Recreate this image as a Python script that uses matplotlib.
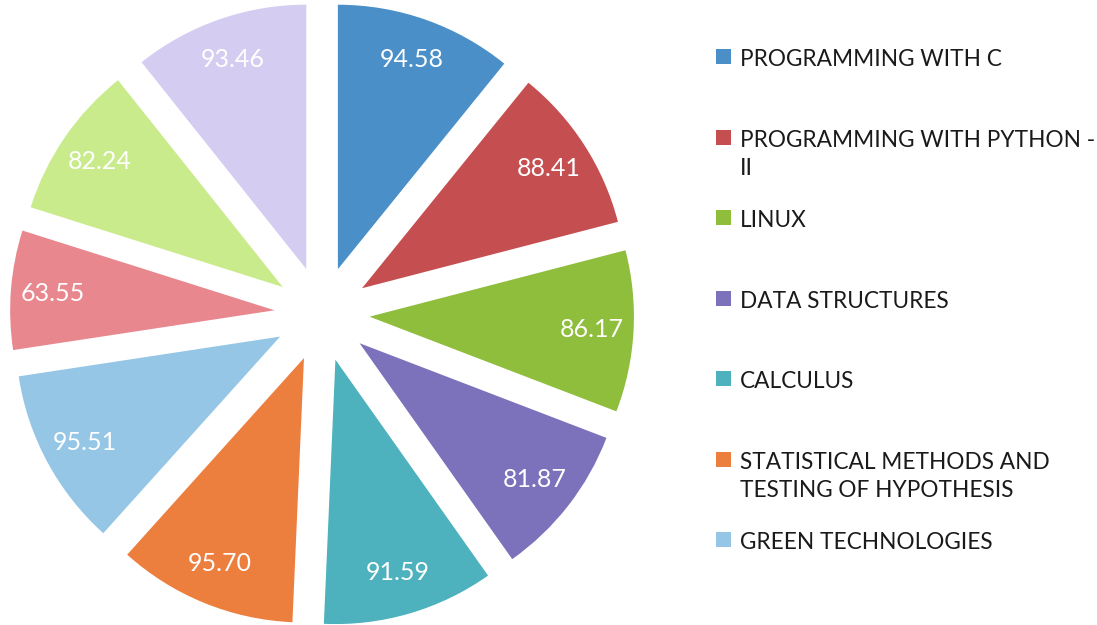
import matplotlib
matplotlib.use("Agg")
import matplotlib.pyplot as plt

values = [94.58, 88.41, 86.17, 81.87, 91.59, 95.70, 95.51, 63.55, 82.24, 93.46]
value_labels = ["94.58", "88.41", "86.17", "81.87", "91.59", "95.70", "95.51", "63.55", "82.24", "93.46"]
legend_names = ["PROGRAMMING WITH C",
                "PROGRAMMING WITH PYTHON -\nII",
                "LINUX",
                "DATA STRUCTURES",
                "CALCULUS",
                "STATISTICAL METHODS AND\nTESTING OF HYPOTHESIS",
                "GREEN TECHNOLOGIES"]
colors = ["#4a8fc8", "#c54e51", "#8fbd3c", "#7c71bb", "#4db2bd", "#ec7e3e",
          "#95c6e5", "#e8878e", "#c9eb8b", "#d5cdf1"]

plt.rcParams['font.family'] = ['Lato', 'DejaVu Sans']

fig = plt.figure(figsize=(10.97, 6.25), dpi=100)
W, H = 1097, 625
cx, cy, half = 322, 314, 318
ax = fig.add_axes([(cx - half) / W, 1 - (cy + half) / H, 2 * half / W, 2 * half / H])
explode = [0.18] * len(values)
wedges, texts = ax.pie(values, labels=value_labels, colors=colors, explode=explode,
                       startangle=90, counterclock=False, labeldistance=0.84,
                       textprops=dict(color="white", fontsize=18))
for t in texts:
    t.set_ha("center")
    t.set_va("center")
lim = 1.18 * half / 312
ax.set_xlim(-lim, lim)
ax.set_ylim(-lim, lim)
ax.set_aspect("equal")
ax.axis("off")

# legend entries, evenly spaced by first line
first_y = 57
step = 80.5
fs = 16.3
for i, name in enumerate(legend_names):
    y_top = first_y - 8 + i * step
    leg = fig.legend(handles=[wedges[i]], labels=[name], loc="upper left",
                     bbox_to_anchor=(716 / W, 1 - y_top / H), frameon=False,
                     fontsize=fs, handlelength=0.65, handleheight=0.65,
                     handletextpad=0.4, borderpad=0, borderaxespad=0)
    for txt in leg.get_texts():
        txt.set_color("#1a1a1a")
        txt.set_linespacing(1.45)
    try:
        for col in leg._legend_handle_box.get_children():
            for row in col.get_children():
                row.align = "top"
    except Exception:
        pass

fig.savefig("out.png", dpi=100, facecolor="white")
